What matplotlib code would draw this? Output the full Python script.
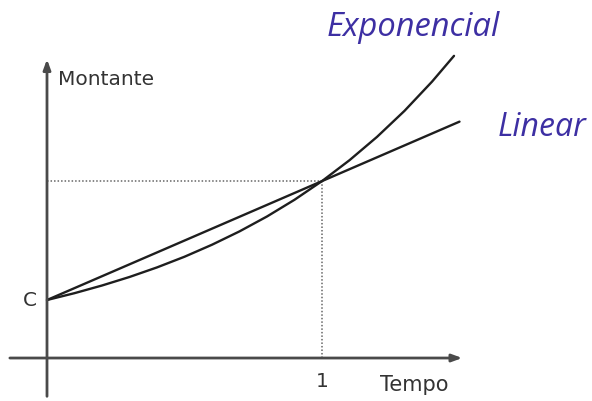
import matplotlib
matplotlib.use("Agg")
import matplotlib.pyplot as plt

# Data (time in units of the period, amount in units of C)
t_exp = [0.0, 0.1, 0.2, 0.3, 0.4, 0.5, 0.6, 0.7, 0.8, 0.9, 1.0, 1.1, 1.2, 1.3, 1.4, 1.48]
m_exp = [1.000, 1.118, 1.250, 1.397, 1.562, 1.746, 1.953, 2.183, 2.440, 2.728,
         3.050, 3.410, 3.812, 4.261, 4.764, 5.209]
t_lin = [0.0, 1.0, 1.50]
m_lin = [1.000, 3.050, 4.075]
C_value = 1.0
t_mark = 1.0
m_mark = 3.05

fig = plt.figure(figsize=(5.92, 4.01), dpi=100)
ax = fig.add_axes([0, 0, 1, 1])
ax.set_xlim(-0.1709, 1.9818)
ax.set_ylim(-0.741, 6.172)
ax.axis("off")

axis_col = "#4a4a4a"
# x axis
ax.annotate("", xy=(1.51, 0), xytext=(-0.135, 0),
            arrowprops=dict(arrowstyle="-|>,head_length=0.6,head_width=0.22",
                            color=axis_col, lw=2.0, shrinkA=0, shrinkB=0))
# y axis
ax.annotate("", xy=(0, 5.15), xytext=(0, -0.66),
            arrowprops=dict(arrowstyle="-|>,head_length=0.6,head_width=0.22",
                            color=axis_col, lw=2.0, shrinkA=0, shrinkB=0))

# dotted guide lines
ax.plot([0, t_mark], [m_mark, m_mark], color="#666666", lw=1.1, ls=(0, (1, 1.3)))
ax.plot([t_mark, t_mark], [0, m_mark], color="#666666", lw=1.1, ls=(0, (1, 1.3)))

ax.plot(t_exp, m_exp, color="#1e1e1e", lw=1.7, solid_capstyle="round")
ax.plot(t_lin, m_lin, color="#1e1e1e", lw=1.7, solid_capstyle="round")

txt_col = "#333333"
ax.text(0.04, 4.8, "Montante", fontsize=14.5, color=txt_col, ha="left", va="center")
ax.text(-0.035, C_value, "C", fontsize=14.5, color=txt_col, ha="right", va="center")
ax.text(t_mark, -0.4, "1", fontsize=14.5, color=txt_col, ha="center", va="center")
ax.text(1.21, -0.47, "Tempo", fontsize=15, color=txt_col, ha="left", va="center")

purple = "#3d2fa3"
ax.text(1.015, 5.69, "Exponencial", fontsize=23.5, color=purple, style="italic",
        family="Open Sans", ha="left", va="center")
ax.text(1.64, 3.97, "Linear", fontsize=23, color=purple, style="italic",
        family="Open Sans", ha="left", va="center")

fig.savefig("out.png", dpi=100)
